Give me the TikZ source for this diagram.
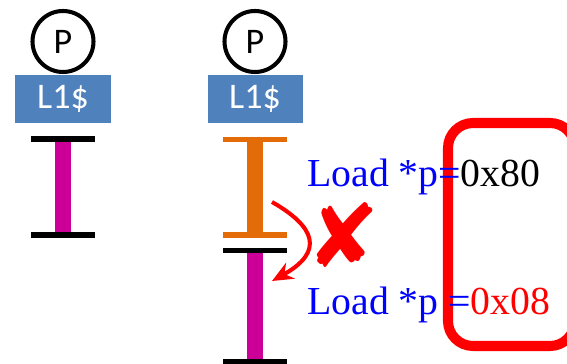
\documentclass[tikz,border=0pt]{standalone}
\usepackage{fontspec}
\usetikzlibrary{arrows.meta}
\setmainfont{Liberation Serif}
\newfontfamily\calibri{Carlito}
\newfontfamily\dejavu{DejaVu Sans}
\definecolor{cacheblue}{HTML}{4F81BD}
\definecolor{epochorange}{HTML}{E36C09}
\definecolor{epochpurple}{HTML}{CC0099}
\begin{document}
\begin{tikzpicture}[>={Stealth[length=0.42cm, width=0.36cm]},
    proc/.style={draw, circle, line width=2.3pt, minimum size=1.22cm, inner sep=0pt, font=\calibri\fontsize{20.5}{24}\selectfont},
    cache/.style={rectangle, fill=cacheblue, minimum width=1.9cm, minimum height=0.96cm, inner sep=0pt, text=white, font=\calibri\fontsize{20.5}{24}\selectfont},
    rail/.style={line width=3.4pt},
    span/.style={line width=9pt},
    load/.style={anchor=base west, inner sep=0pt, text=blue, font=\fontsize{22.6}{27}\selectfont}]
        \useasboundingbox (0,0) rectangle (11.34,7.28);

        % Cores and caches
        \node[proc] (p1) at (1.26,6.45) {P};
        \node[cache] (c1) at (1.26,5.30) {L1\$};
        \node[proc] (p2) at (5.10,6.45) {P};
        \node[cache] (c2) at (5.10,5.30) {L1\$};

        % Epochs (left core)
        \draw[rail] (0.62,4.50) -- (1.90,4.50);
        \draw[span, epochpurple] (1.26,4.44) -- (1.26,2.64);
        \draw[rail] (0.62,2.58) -- (1.90,2.58);

        % Epochs (right core)
        \draw[rail, epochorange] (4.46,4.49) -- (5.74,4.49);
        \draw[span, epochorange] (5.10,4.44) -- (5.10,2.64);
        \draw[rail, epochorange] (4.46,2.58) -- (5.74,2.58);
        \draw[rail] (4.46,2.27) -- (5.74,2.27);
        \draw[span, epochpurple] (5.10,2.22) -- (5.10,0.10);
        \draw[rail] (4.46,0.04) -- (5.74,0.04);

        % Reordering
        \coordinate (old) at (5.44,3.24);
        \coordinate (new) at (5.44,1.66);
        \draw[->, red, line width=2.3pt] (old) .. controls (6.3,2.75) and (6.5,2.25) .. (new);
        \node[red, font=\dejavu\fontsize{50}{56}\selectfont] (fail) at (6.86,2.58) {✘};

        % Values
        \draw[red, line width=5.7pt, rounded corners=0.5cm] (8.96,4.82) rectangle (11.50,0.36);
        \node[load] (ld1) at (6.14,3.54) {Load *p=\textcolor{black}{0x80}};
        \node[load] (ld2) at (6.14,0.98) {Load *p =\textcolor{red}{0x08}};
    \end{tikzpicture}
\end{document}
